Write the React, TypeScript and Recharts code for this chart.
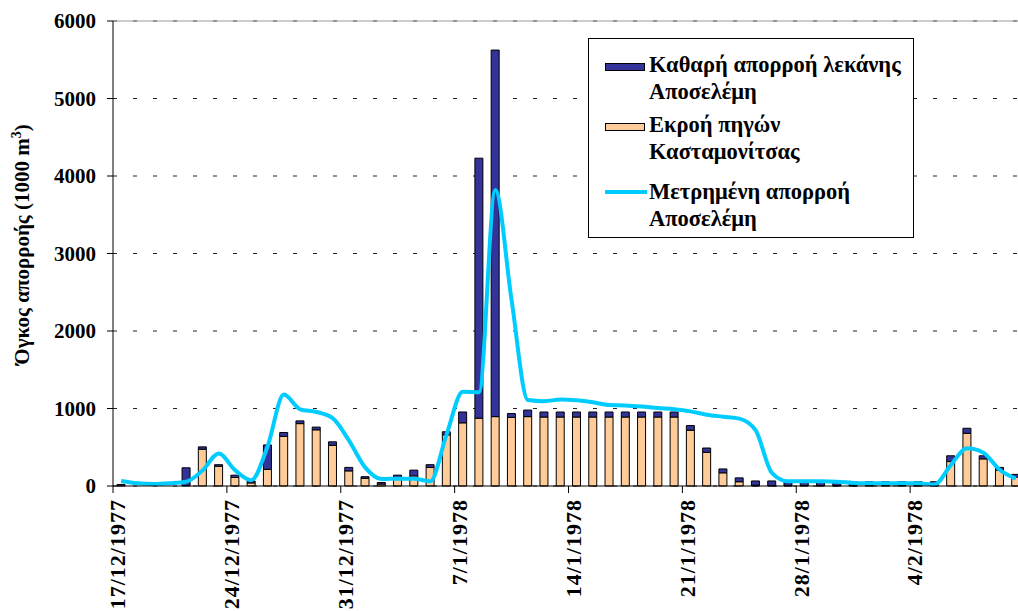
import React from "react";
import {
  ComposedChart,
  Bar,
  Line,
  XAxis,
  YAxis,
  CartesianGrid,
  Legend,
  ReferenceLine,
} from "recharts";

// one category per day, 17/12/1977 - 10/2/1978
const dates = [
  "17/12/1977", "18/12/1977", "19/12/1977", "20/12/1977", "21/12/1977", "22/12/1977", "23/12/1977",
  "24/12/1977", "25/12/1977", "26/12/1977", "27/12/1977", "28/12/1977", "29/12/1977", "30/12/1977",
  "31/12/1977", "1/1/1978", "2/1/1978", "3/1/1978", "4/1/1978", "5/1/1978", "6/1/1978",
  "7/1/1978", "8/1/1978", "9/1/1978", "10/1/1978", "11/1/1978", "12/1/1978", "13/1/1978",
  "14/1/1978", "15/1/1978", "16/1/1978", "17/1/1978", "18/1/1978", "19/1/1978", "20/1/1978",
  "21/1/1978", "22/1/1978", "23/1/1978", "24/1/1978", "25/1/1978", "26/1/1978", "27/1/1978",
  "28/1/1978", "29/1/1978", "30/1/1978", "31/1/1978", "1/2/1978", "2/2/1978", "3/2/1978",
  "4/2/1978", "5/2/1978", "6/2/1978", "7/2/1978", "8/2/1978", "9/2/1978", "10/2/1978",
];

// Εκροή πηγών Κασταμονίτσας
const ekroiPigon = [
  0, 0, 0, 0, 0, 475, 255,
  110, 40, 215, 640, 805, 725, 525,
  195, 100, 25, 110, 130, 240, 660,
  815, 875, 895, 885, 895, 890, 890,
  890, 890, 890, 890, 890, 890, 890,
  720, 435, 170, 55, 10, 5, 5,
  5, 5, 5, 5, 5, 5, 5,
  5, 5, 315, 680, 350, 205, 115,
];

// Καθαρή απορροή λεκάνης Αποσελέμη
const kathariAporroi = [
  20, 0, 0, 0, 235, 30, 20,
  30, 25, 315, 50, 35, 35, 45,
  45, 20, 20, 30, 75, 35, 40,
  140, 3355, 4730, 50, 85, 65, 65,
  65, 65, 65, 65, 65, 65, 65,
  60, 55, 50, 50, 55, 60, 50,
  50, 50, 50, 50, 50, 50, 50,
  50, 50, 75, 65, 40, 35, 35,
];

// Μετρημένη απορροή Αποσελέμη
const metrimeni = [
  65, 35, 25, 35, 55, 200, 420,
  205, 75, 510, 1180, 990, 955, 875,
  590, 240, 90, 95, 95, 60, 660,
  1215, 1210, 3820, 2400, 1110, 1095, 1115,
  1105, 1080, 1045, 1040, 1025, 1005, 990,
  963, 920, 894, 869, 720, 170, 60,
  60, 60, 55, 40, 35, 35, 35,
  35, 20, 270, 486, 430, 210, 95,
];

const yTicks = [0, 1000, 2000, 3000, 4000, 5000, 6000];

const data = dates.map((d, i) => ({
  date: d,
  ekroi: ekroiPigon[i],
  kathari: kathariAporroi[i],
  metrimeni: metrimeni[i],
}));

const FONT = '"Liberation Serif", "Times New Roman", serif';
const BLUE = "#333399";
const ORANGE = "#FFCC99";
const CYAN = "#00CCFF";
const TICK_SIZE = 7;
const TICK_MARGIN = 6;

function DateTick(props: any) {
  const { x, y, payload } = props;
  const half = payload.offset ?? 8;
  const axisY = y - TICK_SIZE - TICK_MARGIN;
  const tx = x - 3.5;
  return (
    <g>
      <line x1={x - half} x2={x - half} y1={axisY} y2={axisY + TICK_SIZE} stroke="#000" />
      <text
        x={tx}
        y={y}
        transform={`rotate(-90 ${tx} ${y})`}
        textAnchor="end"
        dy="0.35em"
        fontFamily={FONT}
        fontWeight="bold"
        fontSize={22}
        letterSpacing={1}
        fill="#000"
      >
        {payload.value}
      </text>
    </g>
  );
}

function YTitle(props: any) {
  const vb = props.viewBox || { x: 0, y: 21, height: 465 };
  const cx = vb.x + 22;
  const cy = vb.y + vb.height / 2 - 9;
  return (
    <text
      x={cx}
      y={cy}
      transform={`rotate(-90 ${cx} ${cy})`}
      textAnchor="middle"
      dy="0.35em"
      fontFamily={FONT}
      fontWeight="bold"
      fontSize={21}
      fill="#000"
    >
      <tspan>Όγκος απορροής (1000 m</tspan>
      <tspan dy={-8} fontSize={14}>3</tspan>
      <tspan dy={8}>)</tspan>
    </text>
  );
}

function LegendBox() {
  const entry = (top: number, swatch: React.ReactNode, lines: string[]) => (
    <div style={{ position: "absolute", top, left: 0, right: 0 }}>
      <div style={{ position: "absolute", left: 16, top: 0 }}>{swatch}</div>
      <div style={{ position: "absolute", left: 60, top: 0, lineHeight: "27px", whiteSpace: "nowrap" }}>
        {lines.map((l) => (
          <div key={l}>{l}</div>
        ))}
      </div>
    </div>
  );
  const rect = (fill: string) => (
    <div
      style={{
        marginTop: 12,
        width: 40,
        height: 8,
        background: fill,
        border: "1px solid #000",
        boxSizing: "border-box",
      }}
    />
  );
  return (
    <div
      style={{
        position: "relative",
        width: 326,
        height: 200,
        border: "1px solid #000",
        boxSizing: "border-box",
        background: "#fff",
        fontFamily: FONT,
        fontWeight: "bold",
        fontSize: 22.5,
        color: "#000",
      }}
    >
      {entry(12, rect(BLUE), ["Καθαρή απορροή λεκάνης", "Αποσελέμη"])}
      {entry(72, rect(ORANGE), ["Εκροή πηγών", "Κασταμονίτσας"])}
      {entry(139, <div style={{ marginTop: 12, width: 42, height: 4, background: CYAN }} />, [
        "Μετρημένη απορροή",
        "Αποσελέμη",
      ])}
    </div>
  );
}

export default function App() {
  return (
    <div
      style={{
        position: "absolute",
        left: 0,
        top: 0,
        width: 1018,
        height: 611,
        overflow: "hidden",
        background: "#fff",
      }}
    >
      <ComposedChart
        width={1030}
        height={611}
        data={data}
        margin={{ top: 21, right: 6, left: 0, bottom: 0 }}
        barSize={8}
      >
        <CartesianGrid vertical={false} stroke="#222" strokeDasharray="4 16" />
        <ReferenceLine y={6000} stroke="#999" />
        <XAxis
          dataKey="date"
          interval={6}
          height={125}
          tickSize={TICK_SIZE}
          tickMargin={TICK_MARGIN}
          tickLine={false}
          axisLine={{ stroke: "#000" }}
          tick={<DateTick />}
        />
        <YAxis
          width={113}
          domain={[0, 6000]}
          ticks={yTicks}
          tickSize={6}
          tickMargin={11}
          axisLine={{ stroke: "#000" }}
          tickLine={{ stroke: "#000" }}
          tick={{ fontFamily: FONT, fontWeight: "bold", fontSize: 21, fill: "#000" }}
          label={<YTitle />}
        />
        <Legend
          layout="vertical"
          align="center"
          verticalAlign="middle"
          content={<LegendBox />}
          wrapperStyle={{ left: 588, top: 38, width: 326, height: 200, bottom: "auto", right: "auto" }}
        />
        <Bar
          dataKey="ekroi"
          name="Εκροή πηγών Κασταμονίτσας"
          stackId="a"
          fill={ORANGE}
          stroke="#000"
          strokeWidth={1}
          isAnimationActive={false}
        />
        <Bar
          dataKey="kathari"
          name="Καθαρή απορροή λεκάνης Αποσελέμη"
          stackId="a"
          fill={BLUE}
          stroke="#000"
          strokeWidth={1}
          isAnimationActive={false}
        />
        <Line
          dataKey="metrimeni"
          name="Μετρημένη απορροή Αποσελέμη"
          type="monotone"
          stroke={CYAN}
          strokeWidth={4}
          dot={false}
          activeDot={false}
          isAnimationActive={false}
        />
      </ComposedChart>
    </div>
  );
}
